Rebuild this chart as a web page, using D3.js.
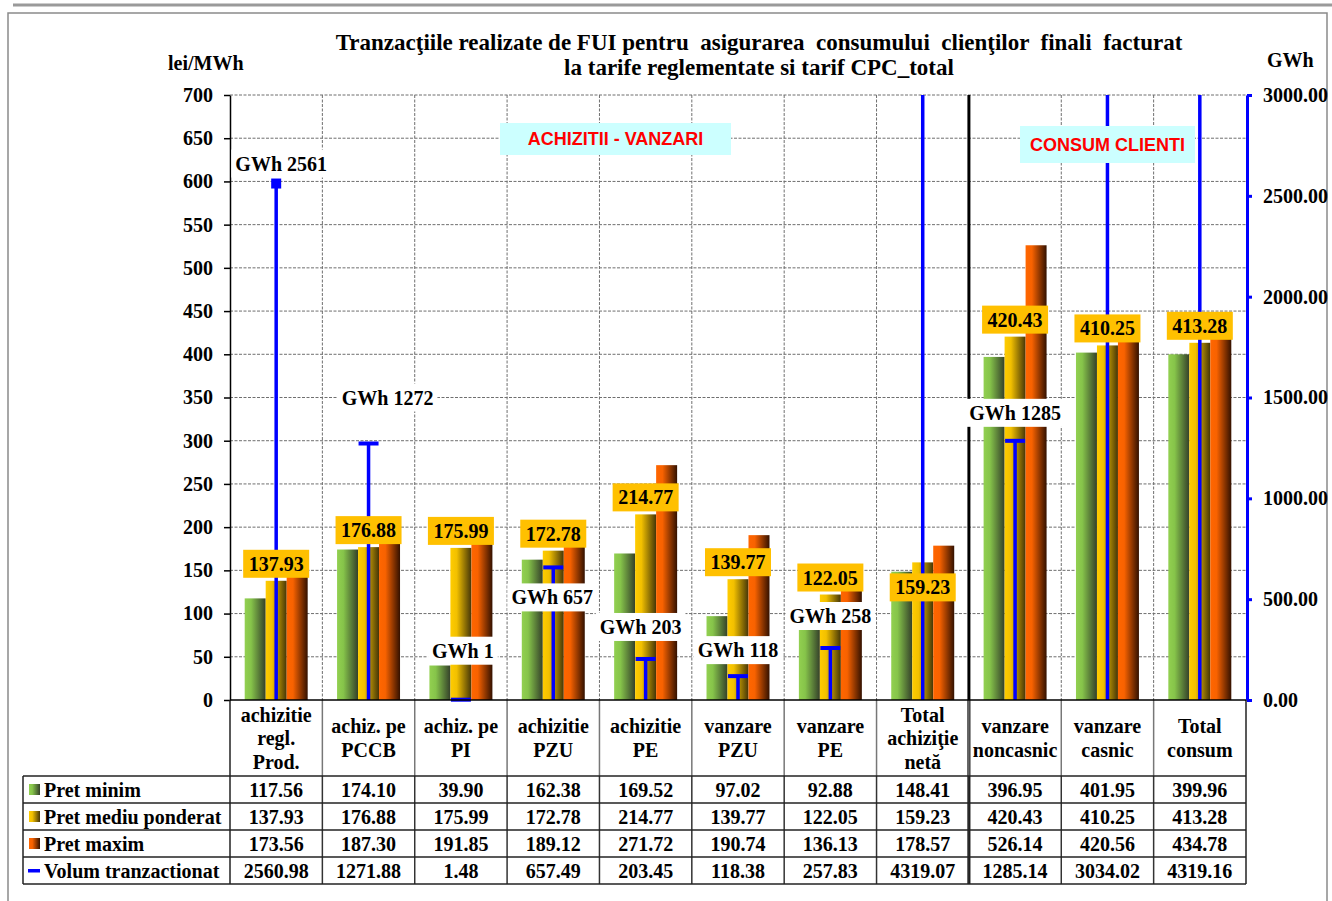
<!DOCTYPE html>
<html>
<head>
<meta charset="utf-8">
<script src="https://cdn.jsdelivr.net/npm/d3@7"></script>
<style>
  body { margin: 0; background: #fff; }
  svg text { font-family: "Liberation Serif", "Times New Roman", serif; font-weight: bold; }
</style>
</head>
<body>
<svg id="chart" width="1332" height="901"></svg>
<script>
// ---- data ----
const categories = [
    ['achizitie', 'regl.', 'Prod.'],
    ['achiz. pe', 'PCCB'],
    ['achiz. pe', 'PI'],
    ['achizitie', 'PZU'],
    ['achizitie', 'PE'],
    ['vanzare', 'PZU'],
    ['vanzare', 'PE'],
    ['Total', 'achiziţie', 'netă'],
    ['vanzare', 'noncasnic'],
    ['vanzare', 'casnic'],
    ['Total', 'consum']
];
const pretMinim = [117.56, 174.10, 39.90, 162.38, 169.52, 97.02, 92.88, 148.41, 396.95, 401.95, 399.96];
const pretMediu = [137.93, 176.88, 175.99, 172.78, 214.77, 139.77, 122.05, 159.23, 420.43, 410.25, 413.28];
const pretMaxim = [173.56, 187.30, 191.85, 189.12, 271.72, 190.74, 136.13, 178.57, 526.14, 420.56, 434.78];
const volum = [2560.98, 1271.88, 1.48, 657.49, 203.45, 118.38, 257.83, 4319.07, 1285.14, 3034.02, 4319.16];
const seriesNames = ['Pret minim', 'Pret mediu ponderat', 'Pret maxim', 'Volum tranzactionat'];
const leftTicks = [0, 50, 100, 150, 200, 250, 300, 350, 400, 450, 500, 550, 600, 650, 700];
const rightTicks = [0, 500, 1000, 1500, 2000, 2500, 3000];
const titleLines = [
    'Tranzacţiile realizate de FUI pentru  asigurarea  consumului  clienţilor  finali  facturat',
    'la tarife reglementate si tarif CPC_total'
];

// label nudges (pixels), hand placed in the original
const meanLabelDy = [-17, -17, -17, -17, -17, -17, -17, 25, -17, -17, -17];
const volLabelDx = [5, 19, 2, -1, -5, 0, 0, 0, 0, 0, 0];
const volLabelDy = [-20, -46, -49, 30, -32, -26, -32, 0, -28, 0, 0];

class PriceChart {
    constructor(_config) {
        this.config = {
            parentElement: _config.parentElement,
            plot: { left: 230, right: 1246, top: 95, bottom: 700 },
            headerBottom: 776,
            rowHeight: 27,
            tableLeft: 23,
            font: 20
        };
        this.initVis();
    }

    initVis() {
        let vis = this;

        vis.svg = d3.select(vis.config.parentElement);

        // gradients for the three price series (bright left, dark right)
        const defs = vis.svg.append('defs');
        const gradColors = [
            ['#92D050', '#86c44a', '#34402a'],
            ['#FFCC00', '#f2c000', '#453608'],
            ['#FF6600', '#f86200', '#331100']
        ];
        gradColors.forEach((c, i) => {
            const g = defs.append('linearGradient')
                .attr('id', 'grad' + i)
                .attr('x1', 0).attr('x2', 1).attr('y1', 0).attr('y2', 0);
            g.append('stop').attr('offset', '0%').attr('stop-color', c[0]);
            g.append('stop').attr('offset', '30%').attr('stop-color', c[1]);
            g.append('stop').attr('offset', '100%').attr('stop-color', c[2]);
        });

        const p = vis.config.plot;

        // scales
        vis.xScale = d3.scaleBand()
            .domain(d3.range(categories.length))
            .range([p.left, p.right])
            .paddingInner(0).paddingOuter(0);

        vis.xSub = d3.scaleBand()
            .domain([0, 1, 2])
            .range([0, vis.xScale.bandwidth()])
            .paddingInner(0).paddingOuter(0.7);

        vis.yLeft = d3.scaleLinear().domain([0, 700]).range([p.bottom, p.top]);
        vis.yRight = d3.scaleLinear().domain([0, 3000]).range([p.bottom, p.top]).clamp(true);

        // frame
        vis.svg.append('line')
            .attr('x1', 13).attr('x2', 1332).attr('y1', 5).attr('y2', 5)
            .attr('stroke', '#9a9a9a').attr('stroke-width', 3);
        vis.svg.append('rect')
            .attr('x', 8).attr('y', 13).attr('width', 1319).attr('height', 900)
            .attr('fill', 'none').attr('stroke', '#8a8a8a').attr('stroke-width', 1.5);

        vis.gridG = vis.svg.append('g');
        vis.barsG = vis.svg.append('g');
        vis.axisG = vis.svg.append('g');
        vis.volG = vis.svg.append('g');
        vis.labelG = vis.svg.append('g');
        vis.tableG = vis.svg.append('g');
        vis.textG = vis.svg.append('g');

        vis.renderVis();
    }

    renderVis() {
        let vis = this;
        const p = vis.config.plot;
        const cfg = vis.config;
        const bw = vis.xScale.bandwidth();
        const cx = i => vis.xScale(i) + bw / 2;
        const boundaries = d3.range(1, categories.length).map(i => vis.xScale(i));

        // horizontal grid
        vis.gridG.selectAll('.hgrid')
            .data(leftTicks.filter(d => d > 0))
            .join('line')
            .attr('class', 'hgrid')
            .attr('x1', p.left).attr('x2', p.right)
            .attr('y1', d => vis.yLeft(d)).attr('y2', d => vis.yLeft(d))
            .attr('stroke', '#6f6f6f').attr('stroke-width', 1)
            .attr('stroke-dasharray', '3,1.5');

        // vertical grid
        vis.gridG.selectAll('.vgrid')
            .data(boundaries)
            .join('line')
            .attr('class', 'vgrid')
            .attr('x1', d => d).attr('x2', d => d)
            .attr('y1', p.top).attr('y2', p.bottom)
            .attr('stroke', '#6f6f6f').attr('stroke-width', 1)
            .attr('stroke-dasharray', '3,1.5');

        // bars
        const priceSeries = [pretMinim, pretMediu, pretMaxim];
        priceSeries.forEach((vals, s) => {
            vis.barsG.selectAll('.bar' + s)
                .data(vals)
                .join('rect')
                .attr('class', 'bar' + s)
                .attr('x', (d, i) => vis.xScale(i) + vis.xSub(s))
                .attr('y', d => vis.yLeft(d))
                .attr('width', vis.xSub.bandwidth())
                .attr('height', d => vis.yLeft(0) - vis.yLeft(d))
                .attr('fill', `url(#grad${s})`);
        });

        // left axis
        const yAxisL = d3.axisLeft(vis.yLeft)
            .tickValues(leftTicks).tickSize(6).tickSizeOuter(0).tickPadding(11);
        const gl = vis.axisG.append('g')
            .attr('transform', `translate(${p.left},0)`)
            .call(yAxisL);
        gl.selectAll('text').attr('font-size', cfg.font).attr('fill', '#000')
            .attr('font-family', '"Liberation Serif", serif').attr('font-weight', 'bold');
        gl.selectAll('line, path').attr('stroke', '#000').attr('stroke-width', 1.5);

        // right axis
        const yAxisR = d3.axisRight(vis.yRight)
            .tickValues(rightTicks).tickFormat(d3.format('.2f'))
            .tickSize(5).tickSizeOuter(0).tickPadding(11);
        const gr = vis.axisG.append('g')
            .attr('transform', `translate(${p.right + 1},0)`)
            .call(yAxisR);
        gr.selectAll('text').attr('font-size', cfg.font).attr('fill', '#000')
            .attr('font-family', '"Liberation Serif", serif').attr('font-weight', 'bold');
        gr.selectAll('line, path').attr('stroke', '#0000FF').attr('stroke-width', 3);

        // thick separator between purchase side and consumption side
        vis.axisG.append('line')
            .attr('x1', vis.xScale(8)).attr('x2', vis.xScale(8))
            .attr('y1', p.top).attr('y2', cfg.headerBottom + 4 * cfg.rowHeight)
            .attr('stroke', '#000').attr('stroke-width', 3);

        // volume lines
        vis.volG.selectAll('.vline')
            .data(volum)
            .join('line')
            .attr('class', 'vline')
            .attr('x1', (d, i) => cx(i)).attr('x2', (d, i) => cx(i))
            .attr('y1', vis.yRight(0)).attr('y2', d => vis.yRight(d))
            .attr('stroke', '#0000FF').attr('stroke-width', 3.5);

        const capped = volum.map((d, i) => ({ v: d, i: i })).filter(d => d.v <= 3000);
        vis.volG.selectAll('.vcap')
            .data(capped)
            .join('rect')
            .attr('class', 'vcap')
            .attr('x', d => cx(d.i) - (d.i === 0 ? 5 : 10))
            .attr('y', d => vis.yRight(d.v) - (d.i === 0 ? 5 : 2))
            .attr('width', d => d.i === 0 ? 10 : 20)
            .attr('height', d => d.i === 0 ? 10 : 4)
            .attr('fill', '#0000FF');

        // mean price labels
        const meanG = vis.labelG.selectAll('.mlab')
            .data(pretMediu)
            .join('g')
            .attr('class', 'mlab')
            .attr('transform', (d, i) => `translate(${cx(i)},${vis.yLeft(d) + meanLabelDy[i]})`);
        meanG.append('rect')
            .attr('x', -33).attr('y', -14).attr('width', 66).attr('height', 28)
            .attr('fill', '#FFC000');
        meanG.append('text')
            .attr('text-anchor', 'middle').attr('y', 7)
            .attr('font-size', cfg.font)
            .text(d => d3.format('.2f')(d));

        // volume labels
        const volLab = vis.labelG.selectAll('.vlab')
            .data(capped)
            .join('g')
            .attr('class', 'vlab')
            .attr('transform', d => `translate(${cx(d.i) + volLabelDx[d.i]},${vis.yRight(d.v) + volLabelDy[d.i]})`);
        volLab.append('rect').attr('fill', '#fff');
        volLab.append('text')
            .attr('text-anchor', 'middle').attr('y', 7)
            .attr('font-size', cfg.font)
            .text(d => 'GWh ' + Math.round(d.v));
        volLab.each(function() {
            const w = d3.select(this).select('text').node().getComputedTextLength();
            d3.select(this).select('rect')
                .attr('x', -w / 2 - 4).attr('y', -14).attr('width', w + 8).attr('height', 28);
        });

        // annotation boxes
        const notes = [
            { text: 'ACHIZITII - VANZARI', x: 500, y: 123, w: 231, h: 32 },
            { text: 'CONSUM CLIENTI', x: 1020, y: 126, w: 175, h: 37 }
        ];
        notes.forEach(n => {
            vis.labelG.append('rect')
                .attr('x', n.x).attr('y', n.y).attr('width', n.w).attr('height', n.h)
                .attr('fill', '#CCFFFF');
            vis.labelG.append('text')
                .attr('x', n.x + n.w / 2).attr('y', n.y + n.h / 2 + 6)
                .attr('text-anchor', 'middle')
                .attr('font-size', 18)
                .style('font-family', '"Liberation Sans", Arial, sans-serif')
                .attr('fill', '#FF0000')
                .text(n.text);
        });

        // ---- data table ----
        const tBottom = cfg.headerBottom + 4 * cfg.rowHeight;
        const rowYs = d3.range(5).map(r => cfg.headerBottom + r * cfg.rowHeight);

        // header column lines
        vis.tableG.selectAll('.hcol')
            .data(boundaries)
            .join('line')
            .attr('class', 'hcol')
            .attr('x1', d => d).attr('x2', d => d)
            .attr('y1', p.bottom).attr('y2', cfg.headerBottom)
            .attr('stroke', '#777').attr('stroke-width', 1.5);
        vis.tableG.selectAll('.rcol')
            .data(boundaries)
            .join('line')
            .attr('class', 'rcol')
            .attr('x1', d => d).attr('x2', d => d)
            .attr('y1', cfg.headerBottom).attr('y2', tBottom)
            .attr('stroke', '#333').attr('stroke-width', 1.5);
        // outer verticals
        vis.tableG.append('line')
            .attr('x1', p.left).attr('x2', p.left).attr('y1', p.bottom).attr('y2', tBottom)
            .attr('stroke', '#222').attr('stroke-width', 1.5);
        vis.tableG.append('line')
            .attr('x1', p.right).attr('x2', p.right).attr('y1', p.bottom).attr('y2', tBottom)
            .attr('stroke', '#222').attr('stroke-width', 1.5);
        vis.tableG.append('line')
            .attr('x1', cfg.tableLeft).attr('x2', cfg.tableLeft)
            .attr('y1', cfg.headerBottom).attr('y2', tBottom)
            .attr('stroke', '#222').attr('stroke-width', 1.5);
        // horizontal rules
        vis.tableG.append('line')
            .attr('x1', p.left).attr('x2', p.right).attr('y1', p.bottom).attr('y2', p.bottom)
            .attr('stroke', '#000').attr('stroke-width', 1.5);
        vis.tableG.selectAll('.hrule')
            .data(rowYs)
            .join('line')
            .attr('class', 'hrule')
            .attr('x1', cfg.tableLeft).attr('x2', p.right)
            .attr('y1', d => d).attr('y2', d => d)
            .attr('stroke', '#222').attr('stroke-width', 1.5);

        // category names
        const headMid = (p.bottom + cfg.headerBottom) / 2;
        categories.forEach((lines, i) => {
            const t = vis.textG.append('text')
                .attr('text-anchor', 'middle')
                .attr('font-size', cfg.font);
            lines.forEach((ln, k) => {
                t.append('tspan')
                    .attr('x', cx(i))
                    .attr('y', headMid + (k - (lines.length - 1) / 2) * 23.5 + 7)
                    .text(ln);
            });
        });

        // table values
        const rows = [pretMinim, pretMediu, pretMaxim, volum];
        rows.forEach((vals, r) => {
            const yb = rowYs[r] + cfg.rowHeight / 2 + 7;
            vis.textG.selectAll('.val' + r)
                .data(vals)
                .join('text')
                .attr('class', 'val' + r)
                .attr('x', (d, i) => cx(i)).attr('y', yb)
                .attr('text-anchor', 'middle')
                .attr('font-size', cfg.font)
                .text(d => d3.format('.2f')(d));

            // legend key + name
            const ym = rowYs[r] + cfg.rowHeight / 2;
            if (r < 3) {
                vis.textG.append('rect')
                    .attr('x', 29).attr('y', ym - 5.5).attr('width', 11).attr('height', 11)
                    .attr('fill', `url(#grad${r})`);
            } else {
                vis.textG.append('rect')
                    .attr('x', 28).attr('y', ym - 1.5).attr('width', 12).attr('height', 3.5)
                    .attr('fill', '#0000FF');
            }
            vis.textG.append('text')
                .attr('x', 44).attr('y', yb)
                .attr('font-size', cfg.font)
                .text(seriesNames[r]);
        });

        // titles
        titleLines.forEach((ln, k) => {
            vis.textG.append('text')
                .attr('x', 759).attr('y', 50 + k * 25)
                .attr('text-anchor', 'middle')
                .attr('font-size', 23)
                .style('white-space', 'pre')
                .text(ln);
        });
        vis.textG.append('text')
            .attr('x', 168).attr('y', 70)
            .attr('font-size', cfg.font)
            .text('lei/MWh');
        vis.textG.append('text')
            .attr('x', 1267).attr('y', 67)
            .attr('font-size', cfg.font)
            .text('GWh');
    }
}

const chart = new PriceChart({ parentElement: '#chart' });
</script>
</body>
</html>
